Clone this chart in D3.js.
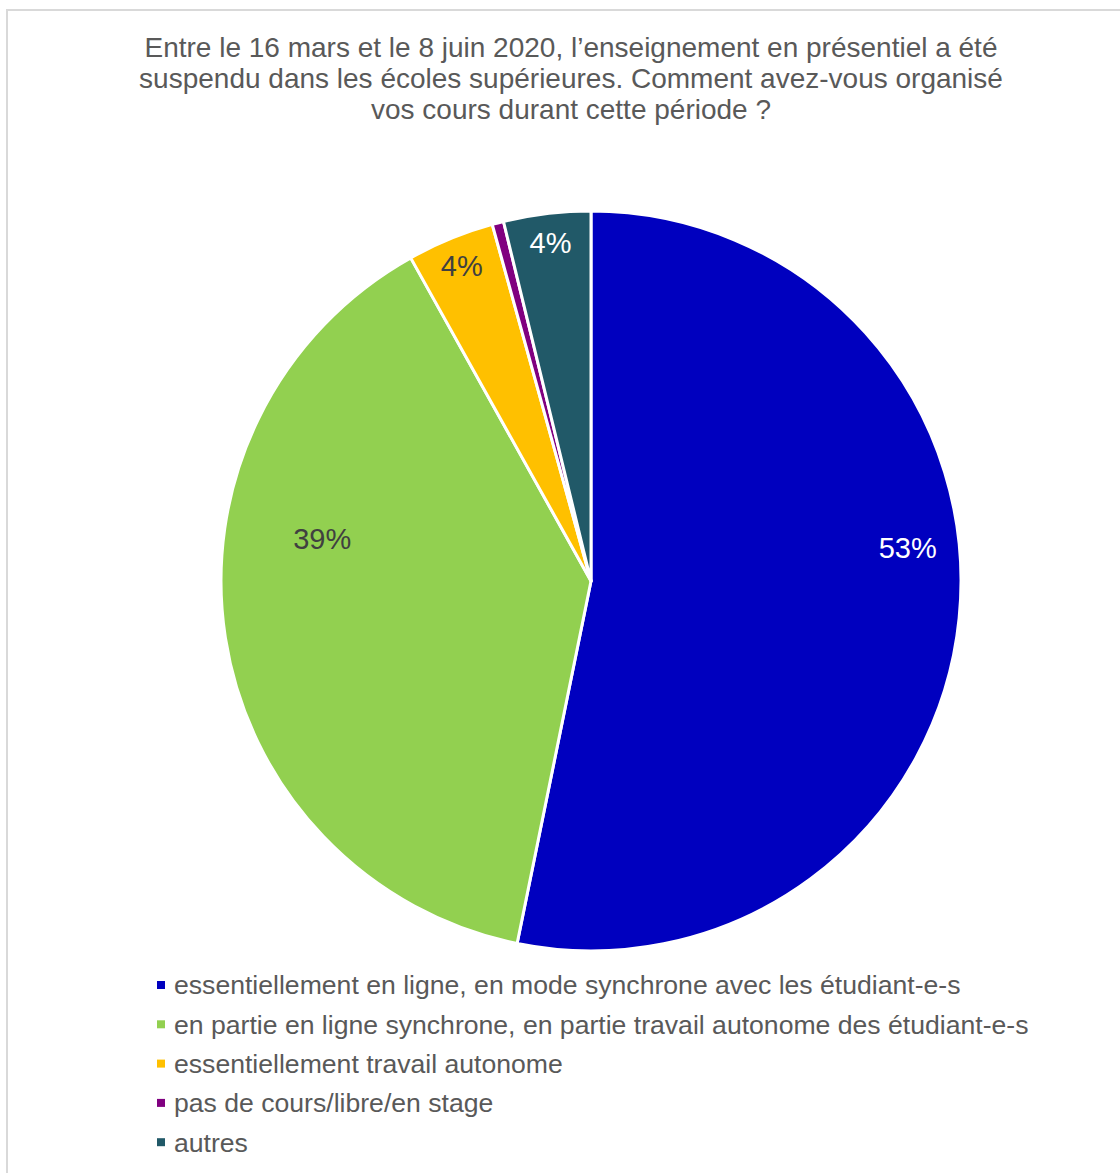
<!DOCTYPE html>
<html lang="fr">
<head>
<meta charset="utf-8">
<title>Organisation des cours</title>
<script src="https://cdn.jsdelivr.net/npm/d3@7/dist/d3.min.js"></script>
<style>
  body { margin: 0; background: #fff; }
  text { font-family: "Liberation Sans", Arial, sans-serif; }
</style>
</head>
<body>
<script>
// data (shares in %)
var categories = [
  "essentiellement en ligne, en mode synchrone avec les étudiant-e-s",
  "en partie en ligne synchrone, en partie travail autonome des étudiant-e-s",
  "essentiellement travail autonome",
  "pas de cours/libre/en stage",
  "autres"
];
var values = [53.2, 38.7, 3.8, 0.5, 3.8];
var labels = ["53%", "39%", "4%", "", "4%"];
var colors = ["#0000BF", "#92D050", "#FFC000", "#800080", "#215968"];
var labelColors = ["#ffffff", "#404040", "#404040", "#ffffff", "#ffffff"];
var titleLines = [
  "Entre le 16 mars et le 8 juin 2020, l’enseignement en présentiel a été",
  "suspendu dans les écoles supérieures. Comment avez-vous organisé",
  "vos cours durant cette période ?"
];

var w = 1120, h = 1173;
var cx = 591, cy = 581, r = 370;

var svg = d3.select("body").append("svg")
  .attr("width", w)
  .attr("height", h);

// chart border
svg.append("rect")
  .attr("x", 7).attr("y", 10)
  .attr("width", w + 20).attr("height", h + 20)
  .attr("fill", "#fff")
  .attr("stroke", "#d9d9d9")
  .attr("stroke-width", 2);

// title
svg.append("g").selectAll("text")
  .data(titleLines)
  .enter().append("text")
  .attr("x", 571)
  .attr("y", function(d, i) { return 57 + i * 31; })
  .attr("text-anchor", "middle")
  .attr("font-size", "28px")
  .attr("fill", "#595959")
  .text(function(d) { return d; });

var pie = d3.pie().sort(null).value(function(d) { return d; });
var arcs = pie(values);
var arc = d3.arc().innerRadius(0).outerRadius(r);

var g = svg.append("g").attr("transform", "translate(" + cx + "," + cy + ")");

g.selectAll("path")
  .data(arcs)
  .enter().append("path")
  .attr("d", arc)
  .attr("fill", function(d, i) { return colors[i]; })
  .attr("stroke", "#fff")
  .attr("stroke-width", 3)
  .attr("stroke-linejoin", "round");

// labels: small slices sit near the outer edge, big ones are pulled toward the top
function labelPos(d) {
  var a = (d.startAngle + d.endAngle) / 2;
  var share = (d.endAngle - d.startAngle) / (2 * Math.PI);
  var lr;
  if (share < 0.1) {
    lr = r * 0.92;
  } else {
    lr = r * (0.402 + 0.862 * share);
    var nudge = (33.8 - 41.4 * share) * Math.PI / 180;
    a = Math.sin(a) > 0 ? a - nudge : a + nudge;
  }
  return [lr * Math.sin(a), -lr * Math.cos(a)];
}

g.selectAll("text.lbl")
  .data(arcs)
  .enter().append("text")
  .attr("class", "lbl")
  .attr("x", function(d) { return labelPos(d)[0]; })
  .attr("y", function(d) { return labelPos(d)[1]; })
  .attr("dy", "0.35em")
  .attr("text-anchor", "middle")
  .attr("font-size", "29px")
  .attr("fill", function(d, i) { return labelColors[i]; })
  .text(function(d, i) { return labels[i]; });

// legend
var legend = svg.append("g").attr("transform", "translate(157,985)");
var rows = legend.selectAll("g")
  .data(categories)
  .enter().append("g")
  .attr("transform", function(d, i) { return "translate(0," + (i * 39.3) + ")"; });

rows.append("rect")
  .attr("x", 0).attr("y", -4)
  .attr("width", 8).attr("height", 8)
  .attr("fill", function(d, i) { return colors[i]; });

rows.append("text")
  .attr("x", 17)
  .attr("dy", "0.35em")
  .attr("font-size", "26.6px")
  .attr("fill", "#595959")
  .text(function(d) { return d; });
</script>
</body>
</html>
